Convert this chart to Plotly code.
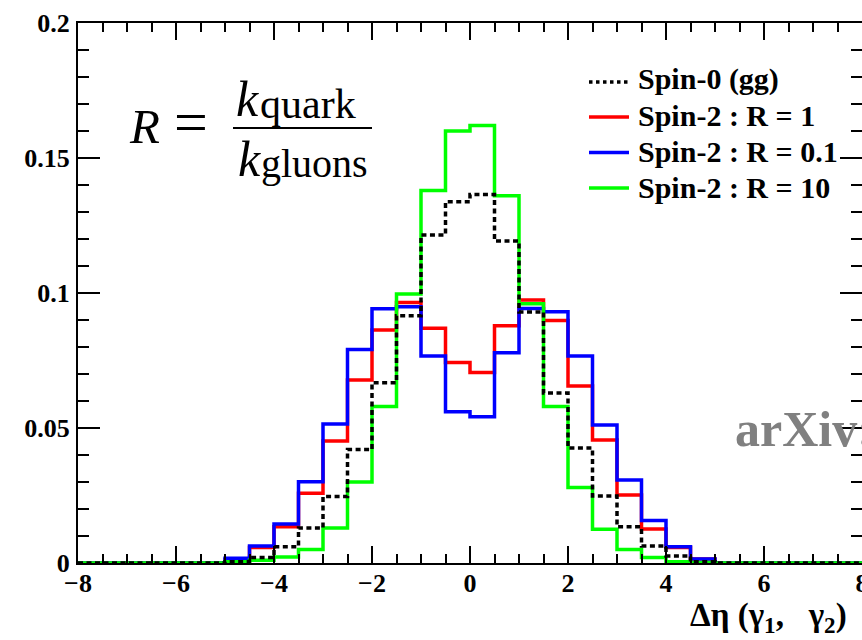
import plotly.graph_objects as go

# ---------------- data ----------------
bin_edges = [-8.0, -7.5, -7.0, -6.5, -6.0, -5.5, -5.0, -4.5, -4.0, -3.5, -3.0,
             -2.5, -2.0, -1.5, -1.0, -0.5, 0.0, 0.5, 1.0, 1.5, 2.0, 2.5, 3.0,
             3.5, 4.0, 4.5, 5.0, 5.5, 6.0, 6.5, 7.0, 7.5, 8.0]

spin0_gg = [0, 0, 0, 0, 0, 0,
            0.0005, 0.0020, 0.0060, 0.0130, 0.0246, 0.0420, 0.0668, 0.0916, 0.1215, 0.1338,
            0.1365, 0.1193, 0.0930, 0.0630, 0.0426, 0.0248, 0.0134, 0.0063, 0.0026, 0.0005,
            0, 0, 0, 0, 0, 0]
spin2_r1 = [0, 0, 0, 0, 0, 0,
            0.0012, 0.0057, 0.0134, 0.0258, 0.0452, 0.0678, 0.0863, 0.0965, 0.0869, 0.0743,
            0.0706, 0.0879, 0.0974, 0.0898, 0.0656, 0.0456, 0.0252, 0.0126, 0.0057, 0.0015,
            0, 0, 0, 0, 0, 0]
spin2_r01 = [0, 0, 0, 0, 0, 0,
             0.0018, 0.0063, 0.0144, 0.0301, 0.0515, 0.0791, 0.0942, 0.0949, 0.0767, 0.0560,
             0.0542, 0.0779, 0.0943, 0.0931, 0.0767, 0.0511, 0.0307, 0.0157, 0.0060, 0.0015,
             0, 0, 0, 0, 0, 0]
spin2_r10 = [0, 0, 0, 0, 0, 0,
             0.0005, 0.0010, 0.0022, 0.0050, 0.0130, 0.0300, 0.0580, 0.0996, 0.1380, 0.1600,
             0.1620, 0.1360, 0.0960, 0.0580, 0.0280, 0.0125, 0.0050, 0.0020, 0.0005, 0.0002,
             0, 0, 0, 0, 0, 0]

series_names = ["Spin-0 (gg)", "Spin-2 : R = 1", "Spin-2 : R = 0.1", "Spin-2 : R = 10"]

x_tickvals = [-8, -6, -4, -2, 0, 2, 4, 6, 8]
x_ticktext = ["\u22128", "\u22126", "\u22124", "\u22122", "0", "2", "4", "6", "8"]
y_tickvals = [0, 0.05, 0.1, 0.15, 0.2]
y_ticktext = ["0", "0.05", "0.1", "0.15", "0.2"]

# ---------------- layout helpers ----------------
W, H = 862, 640
ML, MR, MT, MB = 78, 0, 23, 77
PW, PH = W - ML - MR, H - MT - MB


def px(xp):
    return (xp - ML) / PW


def py(yp):
    return (H - MB - yp) / PH


SERIF = "Liberation Serif"
LW = 3.5

series_colors = ["#000000", "#ff0000", "#0000ff", "#00ff00"]
series_dash = ["5px,3.5px", "solid", "solid", "solid"]
series_vals = [spin0_gg, spin2_r1, spin2_r01, spin2_r10]

fig = go.Figure()

# draw order: R=1, R=0.1, R=10, then Spin-0 on top
for i in [1, 2, 3, 0]:
    vals = series_vals[i]
    fig.add_trace(go.Scatter(
        x=bin_edges, y=list(vals) + [vals[-1]],
        mode="lines",
        line=dict(shape="hv", color=series_colors[i], width=LW, dash=series_dash[i]),
        name=series_names[i], showlegend=False, hoverinfo="skip",
    ))

axis_common = dict(
    showline=True, linecolor="black", linewidth=2, mirror="allticks",
    ticks="inside", tickcolor="black", tickwidth=1.5,
    showgrid=False, zeroline=False, ticklabeloverflow="allow", automargin=False,
    tickfont=dict(family=SERIF, size=26, color="black", weight="bold"),
)

fig.update_xaxes(
    range=[-8, 8.0001], tickvals=x_tickvals, ticktext=x_ticktext, ticklen=17,
    ticklabelstandoff=-4,
    minor=dict(dtick=0.5, tick0=-8, ticks="inside", ticklen=9, tickcolor="black", tickwidth=1.5),
    **axis_common,
)
fig.update_yaxes(
    range=[0, 0.2], tickvals=y_tickvals, ticktext=y_ticktext, ticklen=22,
    ticklabelstandoff=1,
    minor=dict(dtick=0.01, tick0=0, ticks="inside", ticklen=11, tickcolor="black", tickwidth=1.5),
    **axis_common,
)

BLACK = "black"
annotations = [
    # formula R = k_quark / k_gluons
    dict(x=px(144), y=py(126), text="<i>R</i>", font=dict(family=SERIF, size=49, color=BLACK),
         xanchor="center", yanchor="middle"),
    dict(x=px(191), y=py(122), text="=", font=dict(family=SERIF, size=60, color=BLACK),
         xanchor="center", yanchor="middle"),
    dict(x=px(234), y=py(99), text="<i>k</i>", font=dict(family=SERIF, size=50, color=BLACK),
         xanchor="left", yanchor="middle"),
    dict(x=px(258), y=py(104), text="quark", font=dict(family=SERIF, size=42, color=BLACK),
         xanchor="left", yanchor="middle"),
    dict(x=px(236), y=py(159), text="<i>k</i>", font=dict(family=SERIF, size=50, color=BLACK),
         xanchor="left", yanchor="middle"),
    dict(x=px(259), y=py(164), text="gluons", font=dict(family=SERIF, size=40, color=BLACK),
         xanchor="left", yanchor="middle"),
    # watermark
    dict(x=px(733), y=py(429), text="<b>arXiv:1208.4018</b>",
         font=dict(family=SERIF, size=50, color="#808080"), xanchor="left", yanchor="middle"),
    # x-axis title
    dict(x=px(849), y=py(617),
         text="\u0394\u03b7 (\u03b3<sub>1</sub>,\u00a0\u00a0\u00a0\u03b3<sub>2</sub>)",
         font=dict(family=SERIF, size=33, color=BLACK, weight="bold"),
         xanchor="right", yanchor="middle"),
]

# manual legend (ROOT style)
legend_rows_y = [82, 117, 152.5, 188]
legend_text_y = [79, 115, 151, 187]
shapes = [dict(type="line", xref="paper", yref="paper",
               x0=px(233), x1=px(372), y0=py(128), y1=py(128),
               line=dict(color=BLACK, width=2.2))]
for i in range(4):
    shapes.append(dict(type="line", xref="paper", yref="paper",
                       x0=px(589), x1=px(629), y0=py(legend_rows_y[i]), y1=py(legend_rows_y[i]),
                       line=dict(color=series_colors[i], width=LW,
                                 dash="dot" if i == 0 else "solid")))
    annotations.append(dict(x=px(636), y=py(legend_text_y[i]), text=series_names[i],
                            font=dict(family=SERIF, size=30, color=BLACK, weight="bold"),
                            xanchor="left", yanchor="middle"))

for a in annotations:
    a.update(xref="paper", yref="paper", showarrow=False)

fig.update_layout(
    width=W, height=H,
    margin=dict(l=ML, r=MR, t=MT, b=MB, autoexpand=False),
    paper_bgcolor="white", plot_bgcolor="white",
    annotations=annotations,
    shapes=shapes,
    showlegend=False,
)

fig.write_html("out.html")
